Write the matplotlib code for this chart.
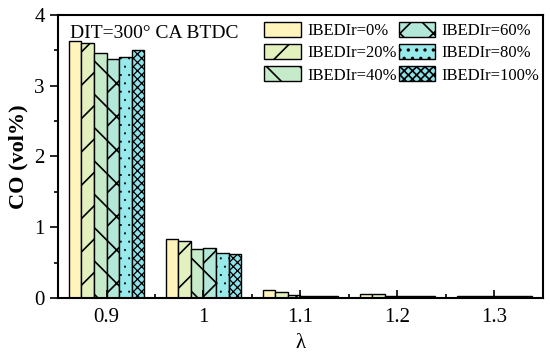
import matplotlib
matplotlib.use("Agg")
import matplotlib.pyplot as plt
import numpy as np
from matplotlib.ticker import MultipleLocator

plt.rcParams['font.family'] = ['Liberation Serif', 'DejaVu Serif']
plt.rcParams['hatch.linewidth'] = 1.2
plt.rcParams['hatch.color'] = 'black'

lambdas = [0.9, 1.0, 1.1, 1.2, 1.3]
tick_labels = ['0.9', '1', '1.1', '1.2', '1.3']
series_names = ['IBEDIr=0%', 'IBEDIr=20%', 'IBEDIr=40%',
                'IBEDIr=60%', 'IBEDIr=80%', 'IBEDIr=100%']
co_0 = [3.63, 0.84, 0.11, 0.05, 0.03]
co_20 = [3.61, 0.81, 0.08, 0.05, 0.03]
co_40 = [3.46, 0.69, 0.04, 0.03, 0.03]
co_60 = [3.38, 0.70, 0.03, 0.03, 0.03]
co_80 = [3.40, 0.63, 0.03, 0.03, 0.03]
co_100 = [3.51, 0.62, 0.03, 0.03, 0.03]
series = [co_0, co_20, co_40, co_60, co_80, co_100]

colors = ['#FEF4BC', '#E3F1BF', '#C6EBCA', '#B3E7D7', '#98EAEA', '#8EE2EA']
hatches = ['', '/', '\\', 'x', '..', 'xxxx']
hatch_lw = [1.2, 1.2, 1.2, 1.2, 0.3, 0.9]

fig = plt.figure(figsize=(5.5, 3.56), dpi=100)
ax = fig.add_axes([0.1055, 0.163, 0.8815, 0.795])

bw = 0.013
x = np.array(lambdas)
for i, (vals, name) in enumerate(zip(series, series_names)):
    with plt.rc_context({'hatch.linewidth': hatch_lw[i]}):
        ax.bar(x + (i - 2.5) * bw, vals, width=bw, color=colors[i],
               edgecolor='black', linewidth=1.0, hatch=hatches[i], label=name)

ax.set_xlim(0.85, 1.35)
ax.set_ylim(0, 4)
ax.set_xticks(lambdas)
ax.set_xticklabels(tick_labels)
ax.xaxis.set_minor_locator(MultipleLocator(0.05))
ax.yaxis.set_major_locator(MultipleLocator(1))
ax.yaxis.set_minor_locator(MultipleLocator(0.5))
ax.tick_params(axis='x', which='major', direction='in', length=6, width=1.2,
               labelsize=15, pad=7)
ax.tick_params(axis='x', which='minor', direction='in', length=3, width=1.2)
ax.tick_params(axis='y', which='major', direction='out', length=6, width=1.2,
               labelsize=15)
ax.tick_params(axis='y', which='minor', direction='out', length=3, width=1.2)
for s in ax.spines.values():
    s.set_linewidth(1.5)

ax.set_ylabel('CO (vol%)', fontsize=16, fontweight='bold', labelpad=4)
ax.set_xlabel('λ', fontsize=15, labelpad=5)

ax.text(0.025, 0.965, 'DIT=300° CA BTDC', transform=ax.transAxes,
        fontsize=14, va='top', ha='left')

ax.legend(loc='upper left', bbox_to_anchor=(0.4247, 0.975), ncol=2,
          frameon=False, fontsize=12, handlelength=2.2, handleheight=1.0,
          labelspacing=0.3, columnspacing=0.1, handletextpad=0.4,
          borderpad=0, borderaxespad=0)

fig.savefig('out.png', dpi=100)
